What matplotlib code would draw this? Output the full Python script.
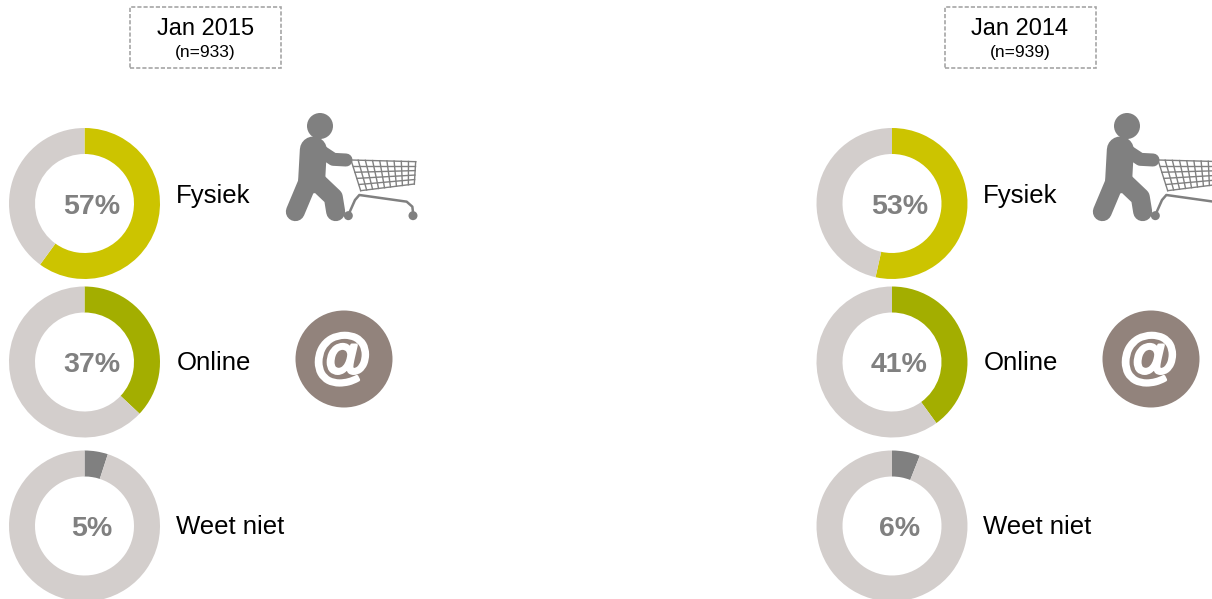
import numpy as np
import matplotlib
matplotlib.use("Agg")
import matplotlib.pyplot as plt
import matplotlib.patheffects as pe
from matplotlib.patches import Circle, Rectangle

plt.rcParams["font.family"] = ["Liberation Sans", "DejaVu Sans"]

# data
periods = ["Jan 2015", "Jan 2014"]
sample_sizes = ["(n=933)", "(n=939)"]
categories = ["Fysiek", "Online", "Weet niet"]
values_2015 = [57, 37, 5]
values_2014 = [53, 41, 6]
# the rings are not drawn exactly as their labels say
arcs_2015 = [60, 37, 5]
arcs_2014 = [53.5, 40, 6]

# style
W, H = 1212, 599
RING = "#D3CECC"
GREY = "#808080"
TAUPE = "#92837C"
COLORS = ["#CCC400", "#A3AE00", GREY]
DONUT_Y = [203.5, 362, 526]
LABEL_Y = [195.5, 362.5, 526.5]
PCT_Y = [205, 364, 528]

# person limbs, in zoom pixels relative to the icon's corner, width in screen pixels
LIMBS = [
  ([(130, 150), (125, 240)], 27),
  ([(118, 235), (76, 335)], 19),
  ([(130, 235), (190, 292), (197, 335)], 19),
  ([(140, 145), (190, 178), (228, 180)], 13),
]


def py(y):
  # pixel row to axis y
  return H - y


def draw_shopper(ax, x0, y0):
  def pt(x, y):
    return x0 + x / 3, py(y0 + y / 3)

  ax.add_patch(Circle(pt(150, 78), 13, color=GREY, lw=0))
  for limb, width in LIMBS:
    ax.plot(*zip(*[pt(*p) for p in limb]), color=GREY, lw=width * 0.72,
            solid_capstyle="round", solid_joinstyle="round")

  # basket grid
  top_l, top_r, bot_r, bot_l = (243, 180), (437, 185), (433, 252), (272, 272)
  for t in np.linspace(0, 1, 10):
    a = (top_l[0] + t * (top_r[0] - top_l[0]), top_l[1] + t * (top_r[1] - top_l[1]))
    b = (bot_l[0] + t * (bot_r[0] - bot_l[0]), bot_l[1] + t * (bot_r[1] - bot_l[1]))
    ax.plot(*zip(pt(*a), pt(*b)), color=GREY, lw=1.0)
  for t in np.linspace(0, 1, 6):
    a = (top_l[0] + t * (bot_l[0] - top_l[0]), top_l[1] + t * (bot_l[1] - top_l[1]))
    b = (top_r[0] + t * (bot_r[0] - top_r[0]), top_r[1] + t * (bot_r[1] - top_r[1]))
    ax.plot(*zip(pt(*a), pt(*b)), color=GREY, lw=1.0)

  # frame and wheels
  frame = [(235, 345), (255, 300), (268, 285), (410, 305), (427, 320), (430, 345)]
  ax.plot(*zip(*[pt(*p) for p in frame]), color=GREY, lw=1.8)
  ax.add_patch(Circle(pt(235, 347), 4.5, color=GREY, lw=0))
  ax.add_patch(Circle(pt(429, 347), 4.5, color=GREY, lw=0))


def draw_panel(ax, x_donut, box_x, values, arcs, period, n, x_label, x_pct, x_at, x_shopper):
  ax.add_patch(Rectangle((box_x, py(68)), 151, 61, fc="white", ec="#A6A6A6", lw=1.2, ls=(0, (2.5, 1.2))))
  ax.text(box_x + 75.5, 29, period, fontsize=17, ha="center", va="center", color="black", transform=pix)
  ax.text(box_x + 75.5, 53, n, fontsize=12.5, ha="center", va="center", color="black", transform=pix)

  for i, val in enumerate(values):
    ax.pie([arcs[i], 100 - arcs[i]], colors=[COLORS[i], RING], startangle=90, counterclock=False,
           center=(x_donut, py(DONUT_Y[i])), radius=75.5,
           wedgeprops={"width": 26, "linewidth": 0})
    ax.text(x_label[i], LABEL_Y[i], categories[i], fontsize=18.5, ha="left", va="center", color="black", transform=pix)
    ax.text(x_pct, PCT_Y[i] + 1.5, f"{val}%", fontsize=20.5, fontweight="bold", ha="center", va="center", color=GREY, transform=pix)

  ax.add_patch(Circle((x_at, py(359)), 48.5, color=TAUPE, lw=0))
  ax.text(x_at - 3, py(361), "@", fontsize=43, fontweight="bold", fontstyle="italic",
          ha="center", va="center", color="white",
          path_effects=[pe.withStroke(linewidth=2.2, foreground="white")])
  draw_shopper(ax, x_shopper, 100)


fig = plt.figure(figsize=(W / 100, H / 100), dpi=100)
ax = fig.add_axes([0, 0, 1, 1])
# text placed by pixel row from the top
pix = matplotlib.transforms.Affine2D().scale(1, -1).translate(0, H) + ax.transData

draw_panel(ax, 84.5, 130, values_2015, arcs_2015, periods[0], sample_sizes[0], [176, 177, 176], 92, 344, 270)
draw_panel(ax, 892, 944.5, values_2014, arcs_2014, periods[1], sample_sizes[1], [983, 984, 983], 899.5, 1151, 1077)

ax.set_xlim(0, W)
ax.set_ylim(0, H)
ax.set_aspect("equal")
ax.axis("off")

fig.savefig("out.png", dpi=100, facecolor="white")
